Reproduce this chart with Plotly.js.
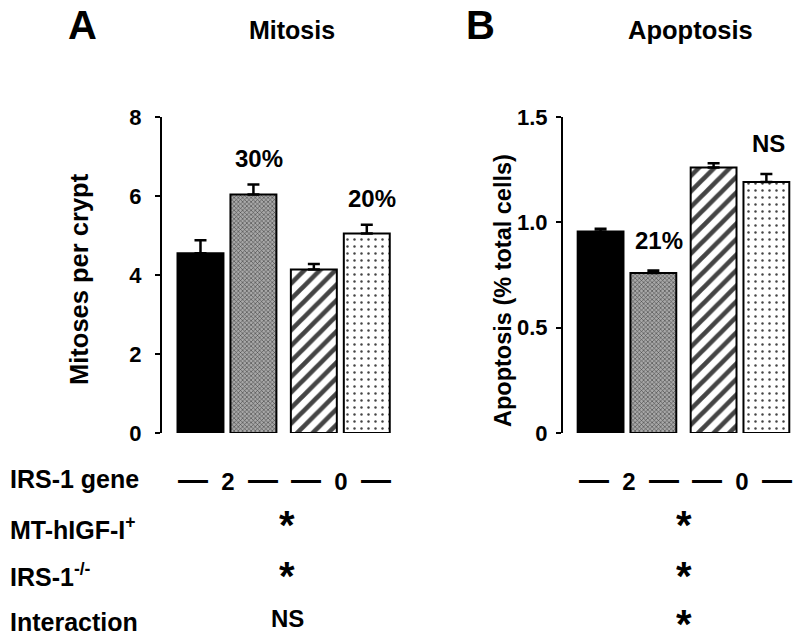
<!DOCTYPE html>
<html>
<head>
<meta charset="utf-8">
<script src="https://cdn.plot.ly/plotly-3.0.1.min.js"></script>
<style>html,body{margin:0;padding:0;background:#fff;}#chart{width:800px;height:639px;}</style>
</head>
<body>
<div id="chart"></div>
<script>
// IRS-1 gene copies (category per group)
var genes = ['2', '0'];

// Panel A: Mitoses per crypt
var mitosisControl = [4.55, 4.14];
var mitosisControlErr = [0.33, 0.14];
var mitosisIGF = [6.04, 5.05];
var mitosisIGFErr = [0.25, 0.22];

// Panel B: Apoptosis (% total cells)
var apoptosisControl = [0.956, 1.260];
var apoptosisControlErr = [0.014, 0.02];
var apoptosisIGF = [0.760, 1.192];
var apoptosisIGFErr = [0.011, 0.037];

var mitosisTicks = [0, 2, 4, 6, 8];
var apoptosisTicks = [0, 0.5, 1.0, 1.5];
var apoptosisTickText = ['0', '0.5', '1.0', '1.5'];

var rowLabels = ['IRS-1 gene', 'MT-hIGF-I<sup>+</sup>', 'IRS-1<sup>-/-</sup>', 'Interaction'];
var mitosisSig = ['*', '*', 'NS'];
var apoptosisSig = ['*', '*', '*'];

var FONT = 'Liberation Sans, Arial, Helvetica, sans-serif';

function ctrlMarker() {
  return {
    color: ['#000000', '#ffffff'],
    line: {color: '#000', width: 2},
    pattern: {
      shape: ['', '/'],
      fgcolor: ['#000000', '#000000'],
      fgopacity: 1,
      size: [8, 11],
      solidity: [0.3, 0.42],
      fillmode: 'overlay'
    }
  };
}
function igfMarker() {
  return {
    color: ['#a8a8a8', '#ffffff'],
    line: {color: '#000', width: 2},
    pattern: {
      shape: ['x', '.'],
      fgcolor: ['#404040', '#555555'],
      fgopacity: 1,
      size: [3, 7],
      solidity: [0.35, 0.1],
      fillmode: 'overlay'
    }
  };
}
function err(arr) {
  return {type: 'data', symmetric: false, array: arr, arrayminus: arr.map(function(){return 0;}),
          color: '#000', thickness: 2.5, width: 6};
}

var traces = [
  {type: 'bar', x: genes, y: mitosisControl, name: 'Control', marker: ctrlMarker(), error_y: err(mitosisControlErr), xaxis: 'x', yaxis: 'y', hoverinfo: 'y'},
  {type: 'bar', x: genes, y: mitosisIGF, name: 'MT-hIGF-I', marker: igfMarker(), error_y: err(mitosisIGFErr), xaxis: 'x', yaxis: 'y', hoverinfo: 'y'},
  {type: 'bar', x: genes, y: apoptosisControl, name: 'Control', marker: ctrlMarker(), error_y: err(apoptosisControlErr), xaxis: 'x2', yaxis: 'y2', hoverinfo: 'y'},
  {type: 'bar', x: genes, y: apoptosisIGF, name: 'MT-hIGF-I', marker: igfMarker(), error_y: err(apoptosisIGFErr), xaxis: 'x2', yaxis: 'y2', hoverinfo: 'y'}
];

var W = 800, H = 639;
function px(x) { return x / W; }
function py(y) { return 1 - y / H; }

var ydom = [py(433), py(117)];

var ann = [];
function txt(text, x, y, size, opts) {
  var a = {text: text, x: px(x), y: py(y), xref: 'paper', yref: 'paper', showarrow: false,
           xanchor: 'center', yanchor: 'middle',
           font: {family: FONT, size: size, color: '#000', weight: 700}};
  if (opts) for (var k in opts) a[k] = opts[k];
  ann.push(a);
}
// Panel letters and titles
txt('A', 82, 25, 40);
txt('Mitosis', 292, 30, 25);
txt('B', 480, 25, 40);
txt('Apoptosis', 690, 30, 25.5);
// Y axis titles
txt('Mitoses per crypt', 79, 279, 25.5, {textangle: -90});
txt('Apoptosis (% total cells)', 503, 291, 23.5, {textangle: -90});
// Bar annotations
txt('30%', 259, 158, 24);
txt('20%', 372, 198, 24);
txt('21%', 659, 240, 24);
txt('NS', 768, 143, 24);

// Bottom rows
var rowY = [479, 528, 575, 622];
rowLabels.forEach(function(l, i) {
  txt(l, 8, rowY[i], 25, {xanchor: 'left'});
});
var dash = '<span style="font-size:30px">—</span>';
function geneLabel(g) { return dash + '  ' + g + '  ' + dash; }
txt(geneLabel(genes[0]), 227.5, 479, 24);
txt(geneLabel(genes[1]), 341, 479, 24);
txt(geneLabel(genes[0]), 629, 479, 24);
txt(geneLabel(genes[1]), 741.5, 479, 24);
var starY = [517, 568, 616];
var starOpts = {height: 28, valign: 'top', borderpad: 0};
mitosisSig.forEach(function(s, i) {
  if (s === '*') txt(s, 287, starY[i], 40, starOpts);
  else txt(s, 287, rowY[i + 1] - 4, 24);
});
apoptosisSig.forEach(function(s, i) {
  txt(s, 684, starY[i], 40, starOpts);
});

var axCommonX = {type: 'category', showline: false, showticklabels: false, ticks: '', showgrid: false, zeroline: false, fixedrange: true};
var axCommonY = {showline: true, linewidth: 2, linecolor: '#000', ticks: 'outside', ticklen: 5, tickwidth: 2, tickcolor: '#000',
                 showgrid: false, zeroline: false, fixedrange: true,
                 tickfont: {family: FONT, size: 22, color: '#000', weight: 700}};

var layout = {
  width: W, height: H,
  margin: {l: 0, r: 0, t: 0, b: 0},
  paper_bgcolor: '#fff', plot_bgcolor: '#fff',
  showlegend: false,
  barmode: 'group',
  bargap: 0.066,
  bargroupgap: 0.132,
  xaxis: Object.assign({}, axCommonX, {domain: [px(162), px(397)], range: [-0.573, 1.5], anchor: 'y'}),
  yaxis: Object.assign({}, axCommonY, {domain: ydom, range: [0, 8], tickvals: mitosisTicks, anchor: 'x', ticklabelstandoff: 9}),
  xaxis2: Object.assign({}, axCommonX, {domain: [px(563), px(796.5)], range: [-0.566, 1.5], anchor: 'y2'}),
  yaxis2: Object.assign({}, axCommonY, {domain: ydom, range: [0, 1.5], tickvals: apoptosisTicks, ticktext: apoptosisTickText, anchor: 'x2', ticklabelstandoff: 4}),
  annotations: ann
};

Plotly.newPlot('chart', traces, layout, {displayModeBar: false, staticPlot: true});
</script>
</body>
</html>
